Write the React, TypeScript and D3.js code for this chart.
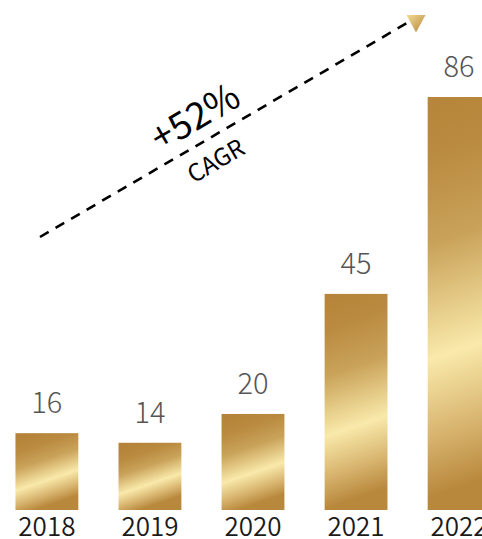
import React from "react";
import * as d3 from "d3";

const years = ["2018", "2019", "2020", "2021", "2022"];
const values = [16, 14, 20, 45, 86];
const cagrLabel = "+52%";
const cagrSub = "CAGR";

const W = 482;
const H = 539;

export default function App() {
  const x = d3.scaleBand<string>().domain(years).range([0, 506]).paddingInner(0.39).paddingOuter(0.15);
  const y = d3.scaleLinear().domain([0, 86]).range([510, 97]);
  const bw = x.bandwidth();
  const font = "'Noto Sans CJK JP', 'Noto Sans', sans-serif";
  const x0 = 40, y0 = 237, x1 = 407, y1 = 23;
  const ang = (Math.atan2(y1 - y0, x1 - x0) * 180) / Math.PI;
  return (
    <svg width={W} height={H} style={{ position: "absolute", left: 0, top: 0 }}>
      <defs>
        {years.map((yr, i) => {
          const bx = x(yr)!;
          const top = y(values[i]);
          const h = 510 - top;
          const d = 0.17 * h;
          return (
            <linearGradient key={yr} id={`g${yr}`} gradientUnits="userSpaceOnUse"
              x1={bx + bw / 2 - d} y1={top} x2={bx + bw / 2 + d} y2={510}>
              <stop offset="0" stopColor="#b5843a" />
              <stop offset="0.15" stopColor="#b98a3f" />
              <stop offset="0.35" stopColor="#c9a259" />
              <stop offset="0.6" stopColor="#f9e9aa" />
              <stop offset="0.78" stopColor="#d5b06a" />
              <stop offset="0.9" stopColor="#b8883c" />
              <stop offset="1" stopColor="#b8883c" />
            </linearGradient>
          );
        })}
        <linearGradient id="tri" x1="0" y1="0" x2="1" y2="1">
          <stop offset="0" stopColor="#f3dc96" />
          <stop offset="1" stopColor="#b5853a" />
        </linearGradient>
      </defs>
      {years.map((yr, i) => (
        <rect key={yr} x={x(yr)} y={y(values[i])} width={bw} height={510 - y(values[i])} fill={`url(#g${yr})`} />
      ))}
      {years.map((yr, i) => (
        <text key={"v" + yr} x={x(yr)! + bw / 2} y={y(values[i]) - 20} textAnchor="middle"
          fontFamily={font} fontWeight={300} fontSize={29} fill="#555">{values[i]}</text>
      ))}
      {years.map((yr) => (
        <text key={"l" + yr} x={x(yr)! + bw / 2} y={536} textAnchor="middle"
          fontFamily={font} fontWeight={350} fontSize={26} fill="#1a1a1a">{yr}</text>
      ))}
      <line x1={x0} y1={y0} x2={x1} y2={y1} stroke="#000" strokeWidth={2.6} strokeDasharray="10 8" />
      <path d="M406.5,15 L425.5,15 L416,32.5 Z" fill="url(#tri)" />
      <text transform={`translate(195,117) rotate(${ang})`} textAnchor="middle" dy="0.35em"
        fontFamily={font} fontSize={37} fill="#000">{cagrLabel}</text>
      <text transform={`translate(216,161) rotate(${ang})`} textAnchor="middle" dy="0.35em"
        fontFamily={font} fontSize={24} fill="#000">{cagrSub}</text>
    </svg>
  );
}
